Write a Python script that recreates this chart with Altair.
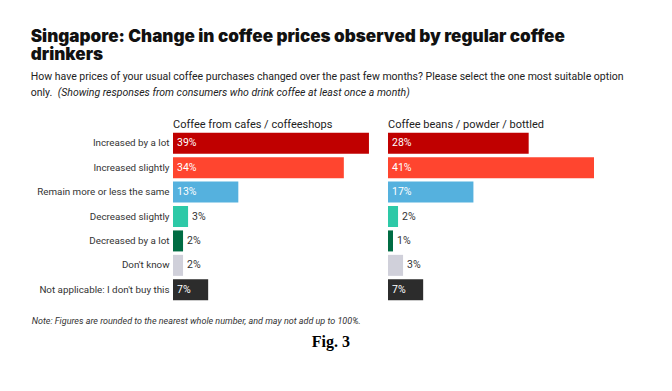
import altair as alt
import pandas as pd

categories = [
    "Increased by a lot",
    "Increased slightly",
    "Remain more or less the same",
    "Decreased slightly",
    "Decreased by a lot",
    "Don't know",
    "Not applicable: I don't buy this",
]
colors = ["#c00000", "#ff452f", "#55b1de", "#2dc9a7", "#006c43", "#d0d0da", "#2c2c2c"]
panels = ["Coffee from cafes / coffeeshops", "Coffee beans / powder / bottled"]
cafes = [39, 34, 13, 3, 2, 2, 7]
beans = [28, 41, 17, 2, 1, 3, 7]

rows = []
for p, vals in zip(panels, [cafes, beans]):
    for c, v in zip(categories, vals):
        rows.append({"panel": p, "category": c, "value": v})
df = pd.DataFrame(rows)

FONT = "Roboto"
y_enc = alt.Y("category:N", sort=categories, title=None,
              scale=alt.Scale(paddingInner=0.14, paddingOuter=0.07),
              axis=alt.Axis(ticks=False, domain=False, labelPadding=4,
                            labelFontSize=9.8, labelColor="#333333", labelFont=FONT,
                            labelLimit=300))
x_scale = alt.Scale(domain=[0, 41], nice=False, zero=True)

base = alt.Chart().transform_calculate(
    label="datum.value + '%'",
    pos="datum.value >= 5 ? 0 : datum.value",
)

bars = base.mark_bar().encode(
    y=y_enc,
    x=alt.X("value:Q", scale=x_scale, axis=None),
    color=alt.Color("category:N", sort=categories,
                    scale=alt.Scale(domain=categories, range=colors), legend=None),
)
labels = base.mark_text(align="left", baseline="middle", dx=4, fontSize=10.5, font=FONT).encode(
    y=alt.Y("category:N", sort=categories),
    x=alt.X("pos:Q", scale=x_scale, axis=None),
    text="label:N",
    color=alt.condition("datum.value >= 5", alt.value("#ffffff"), alt.value("#333333")),
)

facet = alt.layer(bars, labels, data=df).properties(width=206, height=171).facet(
    column=alt.Column("panel:N", sort=panels, title=None,
                      header=alt.Header(labelAnchor="start", labelAlign="left", labelOrient="top",
                                        labelFontSize=11, labelColor="#222222", labelFont=FONT,
                                        labelPadding=1)),
    spacing=9,
).properties(
    title=alt.TitleParams(
        "Note: Figures are rounded to the nearest whole number, and may not add up to 100%.",
        orient="bottom", anchor="start", fontSize=9, font=FONT, fontStyle="italic",
        fontWeight="normal", color="#333333", dx=-5, offset=15,
    )
)

mid = alt.vconcat(facet).properties(
    title=alt.TitleParams("Fig. 3", orient="bottom", anchor="middle", fontSize=16,
                          font="Liberation Serif", fontWeight="bold", color="#000000",
                          dx=18, offset=8)
)

sub = alt.vconcat(mid).properties(
    title=alt.TitleParams(
        "(Showing responses from consumers who drink coffee at least once a month)",
        anchor="start", fontSize=10.5, font=FONT, fontStyle="italic", fontWeight="normal",
        color="#222222", dx=26, offset=21,
    )
)

chart = alt.vconcat(sub).properties(
    title=alt.TitleParams(
        ["Singapore: Change in coffee prices observed by regular coffee", "drinkers"],
        subtitle=["How have prices of your usual coffee purchases changed over the past few months? Please select the one most suitable option",
                  "only."],
        anchor="start", fontSize=17.1, font="Inter", fontWeight=900, color="#111111",
        lineHeight=18, subtitleFont=FONT, subtitleFontSize=10.5, subtitleColor="#222222",
        subtitleLineHeight=16, subtitlePadding=9, dx=-1, offset=-11,
    ),
    padding={"left": 22, "top": 19, "right": 10, "bottom": 10},
).configure_view(stroke=None).configure_concat(spacing=0)

chart.save("out.html", embed_options={"renderer": "svg", "actions": False})
